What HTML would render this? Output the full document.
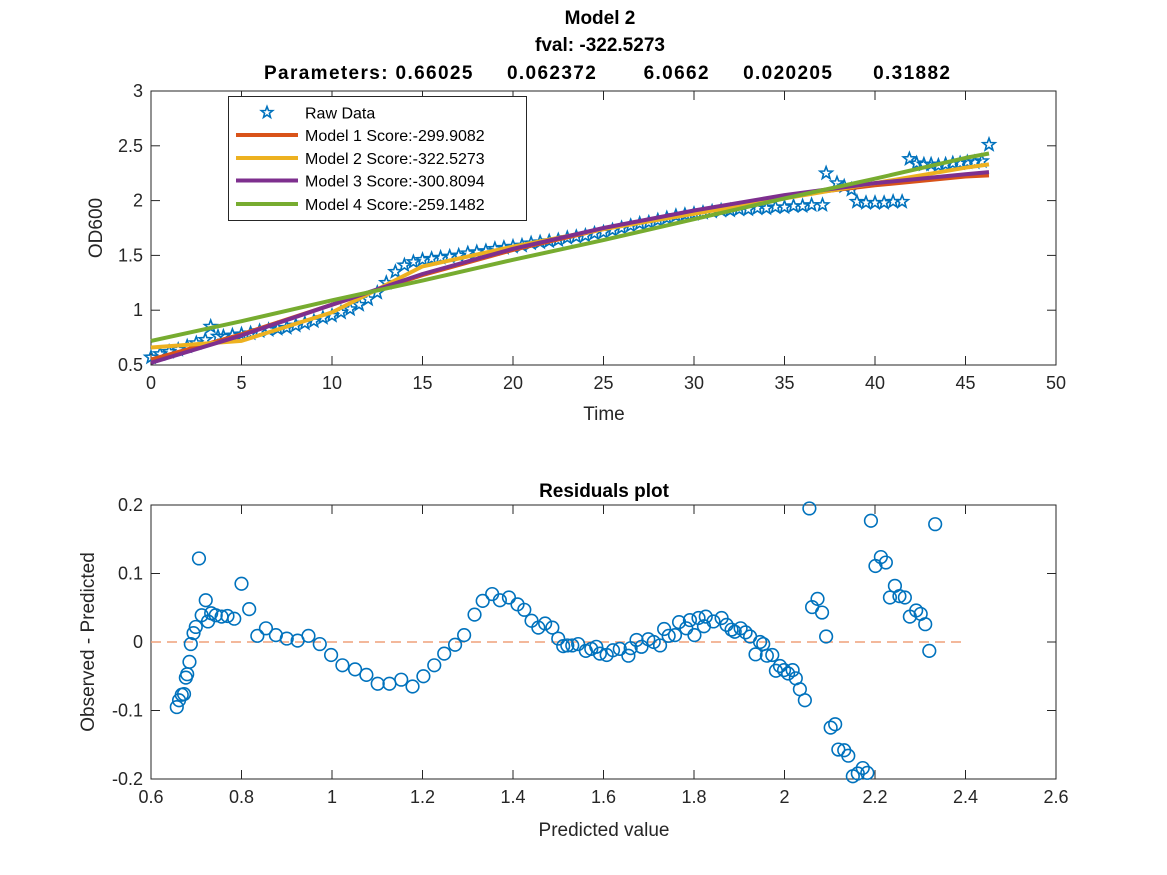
<!DOCTYPE html>
<html><head><meta charset="utf-8">
<style>
body{margin:0;background:#fff;}
svg{display:block;font-family:"Liberation Sans",sans-serif;}
</style></head>
<body>
<svg id="fig" width="1167" height="875" viewBox="0 0 1167 875" xmlns="http://www.w3.org/2000/svg">
<rect width="1167" height="875" fill="#fff"/>
<g id="topg"></g>
<g id="botg"></g>
</svg>
<script>
// ---------- data: top plot ----------
const rawTime = [0,0.5,1,1.5,2,2.5,3,3.3,3.7,4,4.5,5,5.5,6,6.5,7,7.5,8,8.5,9,9.5,10,10.5,11,11.5,12,12.5,13,13.5,14,14.5,15,15.5,16,16.5,17,17.5,18,18.5,19,19.5,20,20.5,21,21.5,22,22.5,23,23.5,24,24.5,25,25.5,26,26.5,27,27.5,28,28.5,29,29.5,30,30.5,31,31.5,32,32.5,33,33.5,34,34.5,35,35.5,36,36.5,37.1,37.3,37.9,38.3,38.7,39,39.5,40,40.5,41,41.5,41.9,42.3,42.7,43.1,43.5,43.9,44.3,44.7,45.1,45.5,45.9,46.3];
const rawOD = [0.57,0.60,0.62,0.64,0.67,0.70,0.73,0.85,0.76,0.76,0.77,0.78,0.79,0.81,0.82,0.83,0.84,0.86,0.88,0.90,0.93,0.95,0.98,1.01,1.05,1.10,1.16,1.25,1.35,1.41,1.44,1.46,1.47,1.48,1.49,1.50,1.52,1.53,1.54,1.56,1.57,1.58,1.59,1.61,1.62,1.63,1.64,1.66,1.67,1.68,1.70,1.71,1.73,1.75,1.77,1.79,1.80,1.82,1.84,1.86,1.87,1.88,1.89,1.90,1.91,1.91,1.92,1.92,1.93,1.93,1.94,1.94,1.95,1.95,1.96,1.96,2.25,2.16,2.13,2.10,1.99,1.98,1.98,1.98,1.99,1.99,2.38,2.34,2.33,2.33,2.32,2.33,2.34,2.34,2.35,2.35,2.36,2.51];
const modelTime = [0,5,10,15,20,25,30,35,40,45,46.3];
const model1 = [0.55,0.78,1.05,1.32,1.55,1.74,1.90,2.04,2.14,2.22,2.23];
const model2 = [0.66,0.72,0.98,1.40,1.58,1.74,1.88,2.02,2.16,2.30,2.33];
const model3 = [0.52,0.77,1.05,1.33,1.56,1.75,1.91,2.05,2.16,2.24,2.26];
const model4 = [0.72,0.90,1.09,1.27,1.46,1.64,1.83,2.02,2.20,2.39,2.43];
const modelNames = ["Model 1 Score:-299.9082","Model 2 Score:-322.5273","Model 3 Score:-300.8094","Model 4 Score:-259.1482"];
const xTicksTop = [0,5,10,15,20,25,30,35,40,45,50];
const yTicksTop = [0.5,1,1.5,2,2.5,3];
// ---------- data: residuals ----------
const predVal = [0.657,0.662,0.668,0.673,0.677,0.680,0.685,0.688,0.694,0.699,0.706,0.712,0.721,0.726,0.733,0.743,0.756,0.769,0.784,0.800,0.817,0.835,0.854,0.876,0.900,0.924,0.948,0.973,0.998,1.023,1.051,1.076,1.101,1.127,1.153,1.178,1.202,1.226,1.248,1.272,1.292,1.315,1.333,1.354,1.371,1.391,1.410,1.425,1.441,1.456,1.471,1.487,1.500,1.511,1.520,1.531,1.544,1.561,1.573,1.584,1.592,1.607,1.621,1.636,1.655,1.660,1.673,1.684,1.699,1.711,1.725,1.734,1.744,1.758,1.767,1.783,1.791,1.801,1.810,1.822,1.826,1.843,1.861,1.872,1.883,1.890,1.903,1.914,1.924,1.936,1.946,1.953,1.961,1.973,1.981,1.990,1.999,2.008,2.018,2.025,2.034,2.045,2.055,2.061,2.073,2.083,2.092,2.102,2.112,2.119,2.132,2.141,2.151,2.162,2.173,2.183,2.191,2.201,2.213,2.224,2.233,2.244,2.254,2.266,2.277,2.291,2.301,2.311,2.320,2.333];
const resid = [-0.095,-0.085,-0.077,-0.076,-0.052,-0.047,-0.029,-0.003,0.013,0.022,0.122,0.039,0.061,0.030,0.042,0.039,0.037,0.038,0.034,0.085,0.048,0.009,0.020,0.010,0.005,0.002,0.009,-0.003,-0.019,-0.034,-0.040,-0.048,-0.061,-0.061,-0.055,-0.065,-0.050,-0.034,-0.017,-0.004,0.010,0.040,0.060,0.070,0.061,0.065,0.055,0.047,0.031,0.021,0.027,0.021,0.005,-0.006,-0.005,-0.005,-0.003,-0.013,-0.010,-0.007,-0.017,-0.019,-0.012,-0.010,-0.020,-0.009,0.003,-0.007,0.004,0.000,-0.005,0.019,0.009,0.010,0.029,0.020,0.032,0.010,0.035,0.023,0.037,0.030,0.035,0.025,0.018,0.015,0.020,0.014,0.008,-0.018,0.000,-0.003,-0.020,-0.019,-0.042,-0.035,-0.041,-0.046,-0.041,-0.053,-0.069,-0.085,0.195,0.051,0.063,0.043,0.008,-0.125,-0.120,-0.157,-0.158,-0.166,-0.196,-0.192,-0.184,-0.191,0.177,0.111,0.124,0.116,0.065,0.082,0.067,0.065,0.037,0.046,0.041,0.026,-0.013,0.172];
const xTicksBot = [0.6,0.8,1,1.2,1.4,1.6,1.8,2,2.2,2.4,2.6];
const yTicksBot = [-0.2,-0.1,0,0.1,0.2];

const NS="http://www.w3.org/2000/svg";
function mk(tag,attrs,parent,txt){const e=document.createElementNS(NS,tag);for(const k in attrs)e.setAttribute(k,attrs[k]);if(txt!==undefined)e.textContent=txt;parent.appendChild(e);return e;}

const L=151,R=1056;
const tT=91,tB=365;
const xT=v=>L+(v-0)/50*(R-L);
const yT=v=>tB-(v-0.5)/2.5*(tB-tT);
const bT=505,bB=779;
const xB=v=>L+(v-0.6)/2*(R-L);
const yB=v=>bB-(v+0.2)/0.4*(bB-bT);

const gTop=document.getElementById('topg'), gBot=document.getElementById('botg');

function axes(g,t,b,xt,yt,xf,yf,nameP){
  const box=mk('rect',{x:L,y:t,width:R-L,height:b-t,fill:'none',stroke:'#262626','stroke-width':1},g);
  
  
  xt.forEach(v=>{
    const x=xf(v);
    mk('line',{x1:x,x2:x,y1:b,y2:b-9,stroke:'#262626'},g);
    mk('line',{x1:x,x2:x,y1:t,y2:t+9,stroke:'#262626'},g);
    const tx=mk('text',{x:x,y:b+24,'text-anchor':'middle','font-size':18,fill:'#262626'},g,String(v));
    
    
  });
  yt.forEach(v=>{
    const y=yf(v);
    mk('line',{x1:L,x2:L+9,y1:y,y2:y,stroke:'#262626'},g);
    mk('line',{x1:R,x2:R-9,y1:y,y2:y,stroke:'#262626'},g);
    const tx=mk('text',{x:L-8,y:y+6,'text-anchor':'end','font-size':18,fill:'#262626'},g,String(v));
    
    
  });
}
axes(gTop,tT,tB,xTicksTop,yTicksTop,xT,yT,'top');
axes(gBot,bT,bB,xTicksBot,yTicksBot,xB,yB,'bottom');

function starPath(cx,cy,r){
  let d='';const ri=r*0.42;
  for(let i=0;i<10;i++){const a=-Math.PI/2+i*Math.PI/5;const rr=i%2?ri:r;d+=(i?'L':'M')+(cx+rr*Math.cos(a)).toFixed(1)+' '+(cy+rr*Math.sin(a)).toFixed(1);}
  return d+'Z';
}
const rawG=mk('g',{},gTop);


rawTime.forEach((t,i)=>{
  const p=mk('path',{d:starPath(xT(t),yT(rawOD[i]),6.5),fill:'none',stroke:'#0072BD','stroke-width':1.6},rawG);
  
  
});
const models=[model1,model2,model3,model4];
const colors=['#D95319','#EDB120','#7E2F8E','#77AC30'];
models.forEach((m,k)=>{
  const pts=modelTime.map((t,i)=>xT(t).toFixed(1)+','+yT(m[i]).toFixed(1)).join(' ');
  const pl=mk('polyline',{points:pts,fill:'none',stroke:colors[k],'stroke-width':4,'stroke-linejoin':'round'},gTop);
  
  
});
const lg=mk('g',{},gTop);


mk('rect',{x:228.5,y:96.5,width:298,height:124,fill:'#fff',stroke:'#262626','stroke-width':1},lg);
const ly=[112.5,135,158,180.5,204];
const le0=mk('path',{d:starPath(267,ly[0],6),fill:'none',stroke:'#0072BD','stroke-width':1.6},lg);


mk('text',{x:305,y:ly[0]+6,'font-size':16,fill:'#000'},lg,'Raw Data');
modelNames.forEach((n,k)=>{
  const y=ly[k+1];
  const ln=mk('line',{x1:236,x2:298,y1:y,y2:y,stroke:colors[k],'stroke-width':4},lg);
  
  
  mk('text',{x:305,y:y+6,'font-size':16,fill:'#000'},lg,n);
});
const t1=mk('text',{x:600,y:24,'text-anchor':'middle','font-size':19,'font-weight':'bold'},gTop,'Model 2');

const t2=mk('text',{x:600,y:51,'text-anchor':'middle','font-size':19,'font-weight':'bold'},gTop,'fval: -322.5273');

const t3=mk('text',{x:264,y:79,'font-size':19,'font-weight':'bold',textLength:686,lengthAdjust:'spacing',style:'white-space:pre'},gTop,'Parameters: 0.66025     0.062372       6.0662     0.020205      0.31882');

const xl=mk('text',{x:604,y:420,'text-anchor':'middle','font-size':19,fill:'#262626'},gTop,'Time');

const yl=mk('text',{x:102,y:228,'text-anchor':'middle','font-size':19,fill:'#262626',transform:'rotate(-90 102 228)'},gTop,'OD600');


const zl=mk('line',{x1:xB(0.6),x2:xB(2.4),y1:yB(0),y2:yB(0),stroke:'#EFA07A','stroke-width':1.6,'stroke-dasharray':'10 6'},gBot);

const rg=mk('g',{},gBot);


predVal.forEach((p,i)=>{
  const c=mk('circle',{cx:xB(p),cy:yB(resid[i]),r:6.3,fill:'none',stroke:'#0072BD','stroke-width':1.6},rg);
  
  
});
const t4=mk('text',{x:604,y:497,'text-anchor':'middle','font-size':19,'font-weight':'bold'},gBot,'Residuals plot');

const xl2=mk('text',{x:604,y:836,'text-anchor':'middle','font-size':19,fill:'#262626'},gBot,'Predicted value');

const yl2=mk('text',{x:94,y:642,'text-anchor':'middle','font-size':19,fill:'#262626',transform:'rotate(-90 94 642)'},gBot,'Observed - Predicted');

</script>
</body></html>
